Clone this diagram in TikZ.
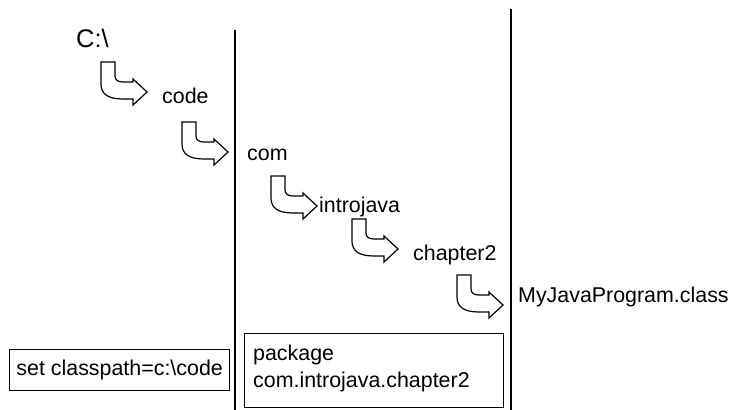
\documentclass[tikz,border=0pt]{standalone}
\usepackage{fontspec}
\setmainfont{Liberation Sans}
\begin{document}
\begin{tikzpicture}[x=1pt,y=-1pt,
  lbl/.style={anchor=base west,inner sep=0pt,font=\fontsize{21.4}{25}\selectfont},
  big/.style={anchor=base west,inner sep=0pt,font=\fontsize{25.5}{30}\selectfont},
  frame/.style={draw,line width=1.3pt,anchor=north west,inner sep=0pt,font=\fontsize{21.4}{25}\selectfont},
  divider/.style={line width=1.3pt},
  uturn/.pic={\draw[line width=1.2pt,line join=miter]
    (0,0) -- (14,0) -- (14,14) .. controls (14,18) and (17,20) .. (22,20)
    -- (32,20) -- (32,17) -- (46,30) -- (32,43) -- (32,37) -- (22,37)
    .. controls (7,37) and (0,32) .. (0,22) -- cycle;}]
\useasboundingbox (0,0) rectangle (729,410);

% dividers
\coordinate (d1t) at (235,30);
\coordinate (d1b) at (235,410);
\coordinate (d2t) at (511,9);
\coordinate (d2b) at (511,410);
\draw[divider] (d1t) -- (d1b);
\draw[divider] (d2t) -- (d2b);

% path labels
\node[big] (root) at (76,47) {C:\textbackslash};
\node[lbl] (code) at (162,103) {code};
\node[lbl] (com) at (247,160) {com};
\node[lbl] (intro) at (319,212) {introjava};
\node[lbl] (chap) at (413,260) {chapter2};
\node[lbl] (prog) at (518,302) {MyJavaProgram.class};

% turning arrows
\pic (a1) at (101,62) {uturn};
\pic (a2) at (182,122) {uturn};
\pic (a3) at (271,176) {uturn};
\pic (a4) at (352,219) {uturn};
\pic (a5) at (457,275) {uturn};

% boxes
\node[frame,minimum width=220pt,minimum height=41pt] (cp) at (9,349) {set classpath=c:\textbackslash code};
\node[frame,minimum width=259pt,minimum height=74pt] (pkgbox) at (244,333) {};
\node[lbl] (pkg1) at (253,360) {package};
\node[lbl] (pkg2) at (253,387) {com.introjava.chapter2};
\end{tikzpicture}
\end{document}
